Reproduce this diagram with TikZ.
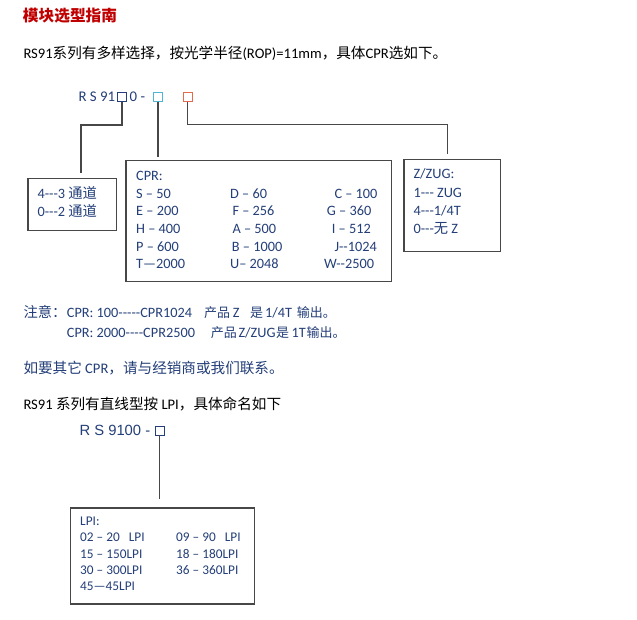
\documentclass[tikz,border=0pt]{standalone}
\usepackage{fontspec}
\setmainfont{Carlito}[Ligatures=TeXOff]
\newfontfamily\cjk{Noto Sans CJK SC}
\newfontfamily\arialfont{Liberation Sans}
\newcommand{\zh}[1]{{\cjk #1}}
\newcommand{\zhsmall}[1]{{\cjk\fontsize{13}{16}\selectfont #1}}
\definecolor{textnavy}{RGB}{35,62,120}
\definecolor{titlered}{RGB}{192,0,0}
\definecolor{sqblue}{RGB}{80,180,215}
\definecolor{sqred}{RGB}{230,105,75}

\begin{document}
\begin{tikzpicture}[x=1pt, y=-1pt,
	txt/.style={anchor=base west, inner sep=0pt, font=\fontsize{14.3}{17}\selectfont},
	bigtxt/.style={txt, font=\fontsize{14.6}{17}\selectfont},
	boxtxt/.style={txt, text=textnavy},
	lpitxt/.style={boxtxt, font=\fontsize{13.3}{16}\selectfont},
	frame/.style={draw=black!72, line width=1.2pt, anchor=north west, inner sep=0pt},
	sqr/.style={draw, line width=0.8pt, minimum size=9pt, inner sep=0pt},
	link/.style={draw=black!72, line width=1.2pt}]
	\useasboundingbox (0,0) rectangle (637,620);
	% heading and first line
	\node[txt, text=titlered, font=\fontsize{15.7}{18}\selectfont\cjk\bfseries] (title) at (22.7,21.8) {模块选型指南};
	\node[bigtxt] (intro) at (23.3,58.8) {RS91\zh{系列有多样选择，按光学半径}(ROP)=11mm\zh{，具体}CPR\zh{选如下。}};
	% model code R S 91x0 - x x
	\node[boxtxt, font=\fontsize{14.8}{17}\selectfont] (code) at (78.3,101.3) {R S 91};
	\node[sqr, draw=textnavy] (sqA) at (122,97) {};
	\node[boxtxt, font=\fontsize{14.8}{17}\selectfont] (codezero) at (129.5,101.3) {0 -};
	\node[sqr, draw=sqblue] (sqB) at (158,97) {};
	\node[sqr, draw=sqred] (sqC) at (187.5,97) {};
	% boxes
	\node[frame, minimum width=88.7pt, minimum height=52.3pt] (chanbox) at (27.3,177.7) {};
	\node[frame, minimum width=265.4pt, minimum height=121.3pt] (cprbox) at (125.3,160) {};
	\node[frame, minimum width=96.7pt, minimum height=91.4pt] (zugbox) at (403.3,159.3) {};
	\coordinate (kneeA) at (81,125);
	\coordinate (kneeC) at (447.7,124.5);
	\draw[link, shorten >=4.4pt] (sqA.south) |- (kneeA) -- (kneeA |- chanbox.north);
	\draw[link, shorten >=3pt] (sqB.south) -- (sqB.south |- cprbox.north);
	\draw[link, shorten >=5pt] (sqC.south) |- (kneeC) -- (kneeC |- zugbox.north);
	% channel box
	\node[boxtxt] (chanA) at (37.3,198.3) {4---3 \zh{通道}};
	\node[boxtxt] (chanB) at (37.3,216.7) {0---2 \zh{通道}};
	% CPR box
	\node[boxtxt] (cprhead) at (136,180.5) {CPR:};
	\node[boxtxt] (cprS) at (136,198.2) {S – 50};
	\node[boxtxt] (cprE) at (136,215.9) {E – 200};
	\node[boxtxt] (cprH) at (136,233.6) {H – 400};
	\node[boxtxt] (cprP) at (136,251.3) {P – 600};
	\node[boxtxt] (cprT) at (136,269) {T—2000};
	\node[boxtxt] (cprD) at (230,198.2) {D – 60};
	\node[boxtxt] (cprF) at (232.3,215.9) {F – 256};
	\node[boxtxt] (cprA) at (232.3,233.6) {A – 500};
	\node[boxtxt] (cprB) at (231.7,251.3) {B – 1000};
	\node[boxtxt] (cprU) at (230,269) {U– 2048};
	\node[boxtxt] (cprC) at (334.3,198.2) {C – 100};
	\node[boxtxt] (cprG) at (326.7,215.9) {G – 360};
	\node[boxtxt] (cprI) at (331.7,233.6) {I – 512};
	\node[boxtxt] (cprJ) at (334.3,251.3) {J--1024};
	\node[boxtxt] (cprW) at (324,269) {W--2500};
	% Z/ZUG box
	\node[boxtxt] (zughead) at (413.3,179) {Z/ZUG:};
	\node[boxtxt] (zugA) at (413.3,197.3) {1--- ZUG};
	\node[boxtxt] (zugB) at (413.3,215.6) {4---1/4T};
	\node[boxtxt] (zugC) at (413.3,233.9) {0---\zh{无} Z};
	% notes
	\node[boxtxt] (noteA) at (23.3,317.4) {\zh{注意：}};
	\node[boxtxt] (noteAcpr) at (66.7,317.4) {CPR: 100-----CPR1024};
	\node[boxtxt] (noteAprod) at (204,317.4) {\zhsmall{产品}};
	\node[boxtxt] (noteAz) at (232.7,317.4) {Z};
	\node[boxtxt] (noteAis) at (250,317.4) {\zhsmall{是}};
	\node[boxtxt] (noteAt) at (265,317.4) {1/4T};
	\node[boxtxt] (noteAout) at (296.7,317.4) {\zhsmall{输出。}};
	\node[boxtxt] (noteBcpr) at (66.7,337.4) {CPR: 2000----CPR2500};
	\node[boxtxt] (noteBprod) at (210.7,337.4) {\zhsmall{产品}};
	\node[boxtxt] (noteBz) at (238.3,337.4) {Z/ZUG};
	\node[boxtxt] (noteBis) at (276,337.4) {\zhsmall{是}};
	\node[boxtxt] (noteBt) at (291.5,337.4) {1T};
	\node[boxtxt] (noteBout) at (306.5,337.4) {\zhsmall{输出。}};
	\node[boxtxt, font=\fontsize{14.6}{17}\selectfont] (contact) at (23.3,373.7) {\zh{如要其它} CPR\zh{，请与经销商或我们联系。}};
	% linear series
	\node[bigtxt] (linear) at (23.3,409.7) {RS91 \zh{系列有直线型按} LPI\zh{，具体命名如下}};
	\node[boxtxt, font=\fontsize{14.8}{17}\selectfont\arialfont] (lcode) at (79.3,435.5) {R S 9100 -};
	\node[sqr, draw=textnavy] (sqL) at (159.7,430.4) {};
	\node[frame, minimum width=184pt, minimum height=96pt] (lpibox) at (70,507.3) {};
	\draw[link, shorten >=8pt] (sqL.south) -- (sqL.south |- lpibox.north);
	% LPI box
	\node[lpitxt] (lpihead) at (80,525) {LPI:};
	\node[lpitxt] (lpiA) at (80,541.6) {02 – 20\ \ \ LPI};
	\node[lpitxt] (lpiB) at (80,558.3) {15 – 150LPI};
	\node[lpitxt] (lpiC) at (80,574.3) {30 – 300LPI};
	\node[lpitxt] (lpiD) at (80,590) {45—45LPI};
	\node[lpitxt] (lpiE) at (176,541.6) {09 – 90\ \ \ LPI};
	\node[lpitxt] (lpiF) at (176,558.3) {18 – 180LPI};
	\node[lpitxt] (lpiG) at (176,574.3) {36 – 360LPI};
\end{tikzpicture}
\end{document}
